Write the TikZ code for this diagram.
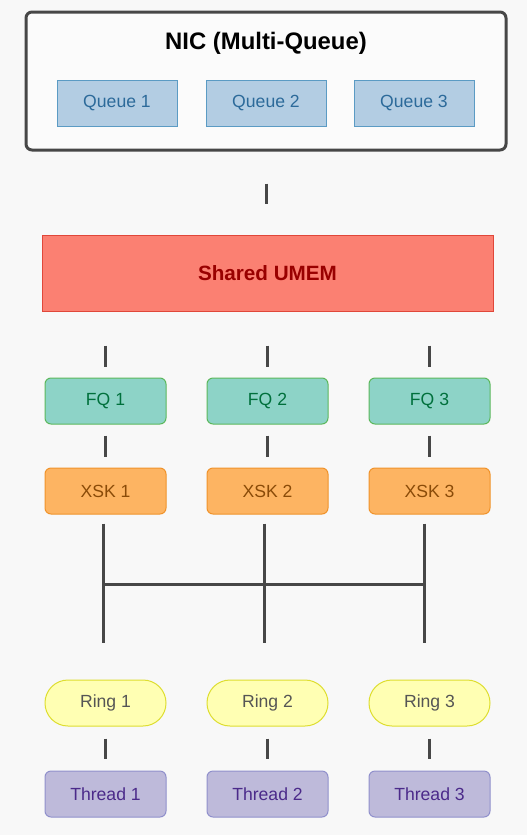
\documentclass[tikz,border=0pt]{standalone}
\usepackage{fontspec}
\setmainfont{Liberation Sans}
\usepackage{tikz}
\usepackage{xcolor}
\usetikzlibrary{backgrounds}

\definecolor{bgcol}{HTML}{F8F8F8}
\definecolor{linecol}{HTML}{474747}
\definecolor{queuefill}{HTML}{B3CDE3}
\definecolor{queuedraw}{HTML}{5B9BC4}
\definecolor{queuetext}{HTML}{2C6A9A}
\definecolor{umemfill}{HTML}{FB8072}
\definecolor{umemdraw}{HTML}{E0473A}
\definecolor{umemtext}{HTML}{990000}
\definecolor{fqfill}{HTML}{8DD3C7}
\definecolor{fqdraw}{HTML}{5CB85C}
\definecolor{fqtext}{HTML}{00703C}
\definecolor{xskfill}{HTML}{FDB462}
\definecolor{xskdraw}{HTML}{F0932B}
\definecolor{xsktext}{HTML}{8A4B08}
\definecolor{ringfill}{HTML}{FFFFB3}
\definecolor{ringdraw}{HTML}{DEDE30}
\definecolor{ringtext}{HTML}{555555}
\definecolor{threadfill}{HTML}{BEBADA}
\definecolor{threaddraw}{HTML}{9090CC}
\definecolor{threadtext}{HTML}{4B2A8A}

\tikzset{
  box/.style={draw, line width=0.75pt, minimum width=90.75pt, minimum height=34.5pt, inner sep=0pt, font=\fontsize{13.2}{15}\selectfont},
  queuebox/.style={box, minimum width=90pt, fill=queuefill, draw=queuedraw, text=queuetext},
  fqbox/.style={box, rounded corners=4.5pt, fill=fqfill, draw=fqdraw, text=fqtext},
  xskbox/.style={box, rounded corners=4.5pt, fill=xskfill, draw=xskdraw, text=xsktext},
  ringbox/.style={box, rounded corners=17.2pt, fill=ringfill, draw=ringdraw, text=ringtext},
  threadbox/.style={box, rounded corners=4.5pt, fill=threadfill, draw=threaddraw, text=threadtext},
  link/.style={draw=linecol, line width=2.25pt}
}

\begin{document}
\begin{tikzpicture}[x=0.75pt,y=-0.75pt]

\fill [bgcol] (0,0) rectangle (527,835);
\useasboundingbox (0,0) rectangle (527,835);

% NIC
\node [draw=linecol, line width=2.25pt, rounded corners=4.5pt, fill=bgcol!50!white, minimum width=360pt, minimum height=103.5pt] (nic) at (266,81) {};
\node [font=\fontsize{17.9}{20}\selectfont\bfseries] (nictitle) at (266,43) {NIC (Multi-Queue)};
\node [queuebox] (queue1) at (117,103) {Queue 1};
\node [queuebox] (queue2) at (266,103) {Queue 2};
\node [queuebox] (queue3) at (414,103) {Queue 3};

% shared memory
\node [draw=umemdraw, fill=umemfill, line width=0.75pt, minimum width=338.25pt, minimum height=57pt, text=umemtext, font=\fontsize{15.5}{18}\selectfont\bfseries] (umem) at (267.5,273) {Shared UMEM};

% fill queues
\node [fqbox] (fq1) at (105.5,401) {FQ 1};
\node [fqbox] (fq2) at (267.5,401) {FQ 2};
\node [fqbox] (fq3) at (429.5,401) {FQ 3};

% sockets
\node [xskbox] (xsk1) at (105.5,491) {XSK 1};
\node [xskbox] (xsk2) at (267.5,491) {XSK 2};
\node [xskbox] (xsk3) at (429.5,491) {XSK 3};

% rings
\node [ringbox] (ring1) at (105.5,703) {Ring 1};
\node [ringbox] (ring2) at (267.5,703) {Ring 2};
\node [ringbox] (ring3) at (429.5,703) {Ring 3};

% threads
\node [threadbox] (thread1) at (105.5,794) {Thread 1};
\node [threadbox] (thread2) at (267.5,794) {Thread 2};
\node [threadbox] (thread3) at (429.5,794) {Thread 3};

% links
\draw [link, shorten <=24pt, shorten >=23.25pt] (nic.south) -- (nic.south |- umem.north);

\draw [link, shorten <=25.5pt, shorten >=8.25pt] (umem.south -| fq1) -- (fq1.north);
\draw [link, shorten <=25.5pt, shorten >=8.25pt] (umem.south -| fq2) -- (fq2.north);
\draw [link, shorten <=25.5pt, shorten >=8.25pt] (umem.south -| fq3) -- (fq3.north);

\draw [link, shorten <=8.25pt, shorten >=8.25pt] (fq1.south) -- (xsk1.north);
\draw [link, shorten <=8.25pt, shorten >=8.25pt] (fq2.south) -- (xsk2.north);
\draw [link, shorten <=8.25pt, shorten >=8.25pt] (fq3.south) -- (xsk3.north);

\coordinate (bus1) at (103,584);
\coordinate (bus2) at (264,584);
\coordinate (bus3) at (424,584);
\draw [link, shorten <=6.75pt, shorten >=27.75pt] (bus1 |- xsk1.south) -- (bus1 |- ring1.north);
\draw [link, shorten <=6.75pt, shorten >=27.75pt] (bus2 |- xsk2.south) -- (bus2 |- ring2.north);
\draw [link, shorten <=6.75pt, shorten >=27.75pt] (bus3 |- xsk3.south) -- (bus3 |- ring3.north);
\draw [link] (bus1) -- (bus3);

\draw [link, shorten <=9pt, shorten >=9pt] (ring1.south) -- (thread1.north);
\draw [link, shorten <=9pt, shorten >=9pt] (ring2.south) -- (thread2.north);
\draw [link, shorten <=9pt, shorten >=9pt] (ring3.south) -- (thread3.north);

\end{tikzpicture}
\end{document}
